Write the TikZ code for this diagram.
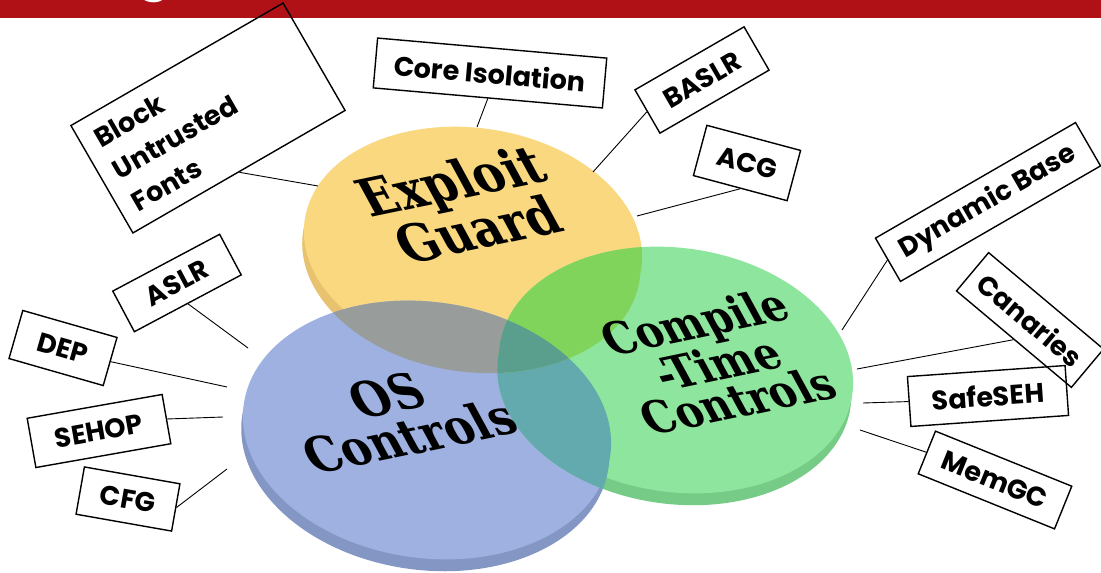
\documentclass[tikz,border=0pt]{standalone}
\usepackage{fontspec}
\usepackage{tikz}
\newfontfamily\tagfont{Poppins}
\newfontfamily\discfont{DejaVu Serif}
\definecolor{slidered}{RGB}{176,17,23}
\definecolor{guardtop}{RGB}{249,216,128}
\definecolor{guardrim}{RGB}{232,194,110}
\definecolor{ostop}{RGB}{158,177,224}
\definecolor{osrim}{RGB}{132,150,196}
\definecolor{cttop}{RGB}{142,230,158}
\definecolor{ctrim}{RGB}{118,204,134}
\definecolor{guardos}{RGB}{152,157,155}
\definecolor{guardct}{RGB}{128,212,92}
\definecolor{osct}{RGB}{98,170,174}
\definecolor{allthree}{RGB}{90,158,142}
\tikzstyle{tag}=[draw, line width=1.4pt, inner sep=0pt, minimum height=50pt, font=\tagfont\bfseries\fontsize{27}{37}\selectfont]
\tikzstyle{wire}=[line width=0.9pt]
\tikzstyle{disctext}=[align=center, inner sep=0pt, xslant=-0.35]

\begin{document}
\begin{tikzpicture}[x=1pt,y=-1pt]
      \useasboundingbox[fill=white] (0,0) rectangle (1101,573);
      % title bar
      \fill[slidered] (0,0) rectangle (1101,18);
      \begin{scope}
        \clip (0,0) rectangle (1101,18);
        \node[text=white, anchor=base, inner sep=0pt, font=\tagfont\bfseries\fontsize{52}{52}\selectfont] (ttl) at (154,-12) {g};
      \end{scope}
      % discs
      \fill[guardrim, rotate around={-8:(473,244)}] (473,256) ellipse (170 and 116);
      \fill[guardtop, rotate around={-8:(473,244)}] (473,244) ellipse (170 and 116);
      \fill[osrim, rotate around={-8:(427,430)}] (427,442) ellipse (185 and 128);
      \fill[ostop, rotate around={-8:(427,430)}] (427,430) ellipse (185 and 128);
      \fill[ctrim, rotate around={-8:(676,370)}] (676,382) ellipse (178 and 122);
      \fill[cttop, rotate around={-8:(676,370)}] (676,370) ellipse (178 and 122);
      % overlaps
      \begin{scope}
        \clip[rotate around={-8:(427,430)}] (427,430) ellipse (185 and 128) (427,442) ellipse (185 and 128);
        \fill[osct, rotate around={-8:(676,370)}] (676,370) ellipse (178 and 122) (676,382) ellipse (178 and 122);
      \end{scope}
      \begin{scope}
        \clip[rotate around={-8:(473,244)}] (473,244) ellipse (170 and 116) (473,256) ellipse (170 and 116);
        \fill[guardos, rotate around={-8:(427,430)}] (427,430) ellipse (185 and 128) (427,442) ellipse (185 and 128);
        \fill[guardct, rotate around={-8:(676,370)}] (676,370) ellipse (178 and 122) (676,382) ellipse (178 and 122);
        \clip[rotate around={-8:(427,430)}] (427,430) ellipse (185 and 128) (427,442) ellipse (185 and 128);
        \fill[allthree, rotate around={-8:(676,370)}] (676,370) ellipse (178 and 122) (676,382) ellipse (178 and 122);
      \end{scope}
      \node[disctext, rotate=11, font=\discfont\bfseries\fontsize{50}{42}\selectfont] (guard) at (464,205) {Exploit\\Guard};
      \node[disctext, rotate=11, font=\discfont\bfseries\fontsize{47}{42}\selectfont] (os) at (398,416) {OS\\Controls};
      \node[disctext, rotate=11, font=\discfont\bfseries\fontsize{43}{38}\selectfont] (ct) at (716,361) {Compile\\-Time\\Controls};
      % labels
      \node[tag, rotate=30, minimum width=245pt, minimum height=124pt, text width=215pt, align=left] (blk) at (208,118) {Block\\Untrusted\\Fonts};
      \node[tag, rotate=-5, minimum width=230pt] (core) at (490,73) {Core Isolation};
      \node[tag, rotate=30, minimum width=126pt] (baslr) at (702,80) {BASLR};
      \node[tag, rotate=-15, minimum width=97pt, minimum height=52pt] (acg) at (747,163) {ACG};
      \node[tag, rotate=30, minimum width=231pt] (dyn) at (988,202) {Dynamic Base};
      \node[tag, rotate=-40, minimum width=150pt] (can) at (1030,320) {Canaries};
      \node[tag, rotate=4, minimum width=158pt] (safe) at (988,396) {SafeSEH};
      \node[tag, rotate=-22, minimum width=147pt, minimum height=46pt] (mem) at (995,480) {MemGC};
      \node[tag, rotate=28, minimum width=121pt, minimum height=46pt] (aslr) at (177,283) {ASLR};
      \node[tag, rotate=-16, minimum width=98pt] (dep) at (63,348) {DEP};
      \node[tag, rotate=10, minimum width=137pt] (sehop) at (99,431) {SEHOP};
      \node[tag, rotate=-10, minimum width=97pt, minimum height=48pt] (cfg) at (128,499) {CFG};
      % disc ends of the wires
      \coordinate (blkEnd) at (318,186);
      \coordinate (coreEnd) at (477,127);
      \coordinate (baslrEnd) at (593,172);
      \coordinate (acgEnd) at (637,216);
      \coordinate (dynEnd) at (842,330);
      \coordinate (canEnd) at (857,369);
      \coordinate (safeEnd) at (863,403);
      \coordinate (memEnd) at (860,430);
      \coordinate (aslrEnd) at (248,348);
      \coordinate (depEnd) at (227,387);
      \coordinate (sehopEnd) at (223,417);
      \coordinate (cfgEnd) at (227,469);
      \draw[wire] (blk.south) -- (blkEnd);
      \draw[wire] (core.south) -- (coreEnd);
      \draw[wire] (baslr.west) -- (baslrEnd);
      \draw[wire] (acg.south) -- (acgEnd);
      \draw[wire] (dyn.west) -- (dynEnd);
      \draw[wire] (can.south) -- (canEnd);
      \draw[wire] (safe.west) -- (safeEnd);
      \draw[wire] (mem.west) -- (memEnd);
      \draw[wire] (aslr.south) -- (aslrEnd);
      \draw[wire] (dep.east) -- (depEnd);
      \draw[wire] (sehop.east) -- (sehopEnd);
      \draw[wire] (cfg.east) -- (cfgEnd);
    \end{tikzpicture}
\end{document}
